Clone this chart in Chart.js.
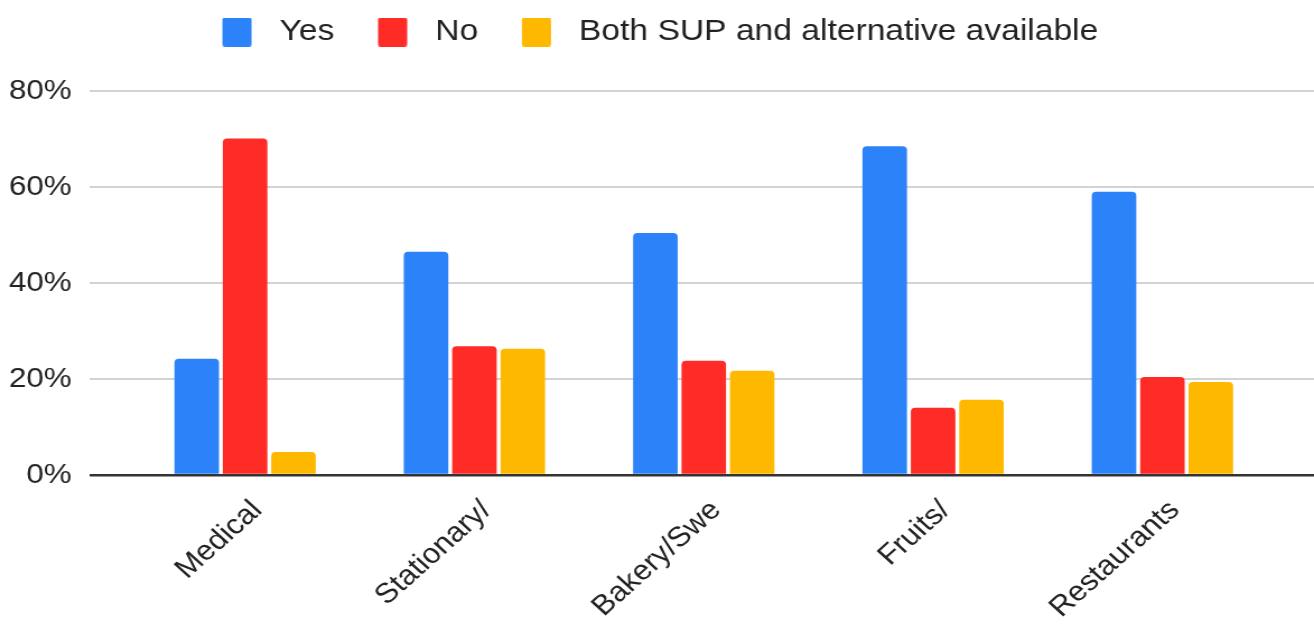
<!DOCTYPE html>
<html>
<head>
<meta charset="utf-8">
<script src="https://cdn.jsdelivr.net/npm/chart.js@4/dist/chart.umd.min.js"></script>
<style>
  html, body { margin: 0; padding: 0; background: #fff; overflow: hidden; }
  /* the chart is laid out on a narrower canvas and widened horizontally */
  #wrap { width: 1173px; height: 626px; transform: scaleX(1.1202); transform-origin: 0 0; }
  #c { display: block; }
</style>
</head>
<body>
<div id="wrap"><canvas id="c" width="1173" height="626"></canvas></div>
<script>
// Share of shops by category: is a single-use-plastic alternative offered?
const categories = ['Medical', 'Stationary/', 'Bakery/Swe', 'Fruits/', 'Restaurants'];
const seriesNames = ['Yes', 'No', 'Both SUP and alternative available'];
const yesValues  = [24.2, 46.5, 50.4, 68.5, 59.0];
const noValues   = [70.1, 26.8, 23.8, 14.0, 20.4];
const bothValues = [4.8, 26.3, 21.7, 15.7, 19.4];
const yTicks = [0, 20, 40, 60, 80];

const colors = ['#2b82f9', '#ff2b26', '#ffb800'];
const FONT = "'Liberation Sans', Arial, Helvetica, sans-serif";
const TEXT = '#222222';

Chart.defaults.font.family = FONT;
Chart.defaults.color = TEXT;

// legend swatch: a rounded block with blank space around it
function swatch(color) {
  const cv = document.createElement('canvas');
  cv.width = 42; cv.height = 29;
  const g = cv.getContext('2d');
  g.fillStyle = color;
  g.beginPath();
  if (g.roundRect) g.roundRect(6, 0, 26, 29, 2); else g.rect(6, 0, 26, 29);
  g.fill();
  return cv;
}

// keeps a gap between the legend row and the plot
const legendSpacer = {
  id: 'legendSpacer',
  beforeInit(chart) {
    Chart.layouts.addBox(chart, {
      position: 'top', weight: 500, fullSize: true, options: {},
      left: 0, top: 0, right: 0, bottom: 0, width: 0, height: 0,
      isHorizontal() { return true; },
      update(maxWidth) { this.width = maxWidth; this.height = 34; },
      draw() {}
    });
  }
};

const toPoints = vals => vals.map((v, i) => ({ x: i, y: v }));
const seriesValues = [yesValues, noValues, bothValues];

new Chart(document.getElementById('c'), {
  type: 'bar',
  data: {
    datasets: seriesNames.map((name, k) => ({
      label: name,
      data: toPoints(seriesValues[k]),
      backgroundColor: colors[k],
      borderRadius: 4,
      borderSkipped: 'start',
      categoryPercentage: 0.633,
      barPercentage: 0.92
    }))
  },
  options: {
    responsive: false,
    animation: false,
    devicePixelRatio: 1,
    layout: { padding: { top: -16, left: 0, right: 0, bottom: 0 } },
    plugins: {
      tooltip: { enabled: false },
      legend: {
        position: 'top',
        align: 'center',
        labels: {
          usePointStyle: true,
          pointStyleWidth: 42,
          boxHeight: 29,
          padding: 33,
          color: TEXT,
          font: { size: 30, family: FONT },
          generateLabels(chart) {
            return Chart.defaults.plugins.legend.labels.generateLabels(chart)
              .map((item, k) => Object.assign(item, { pointStyle: swatch(colors[k]) }));
          }
        }
      }
    },
    scales: {
      x: {
        type: 'linear',
        offset: false,
        min: -0.678,
        max: 4.661,
        grid: { display: false, drawTicks: false },
        border: { display: false },
        afterBuildTicks(scale) { scale.ticks = categories.map((_, i) => ({ value: i })); },
        afterFit(scale) { scale.height = 151; },
        ticks: {
          autoSkip: false,
          maxRotation: 45,
          minRotation: 45,
          padding: 19,
          labelOffset: 11,
          color: TEXT,
          font: { size: 28, family: FONT },
          callback: v => categories[v]
        }
      },
      y: {
        min: 0,
        max: 80,
        afterBuildTicks(scale) { scale.ticks = yTicks.map(v => ({ value: v })); },
        afterFit(scale) { scale.width = 80; },
        border: { display: false },
        grid: {
          drawTicks: false,
          lineWidth: ctx => (ctx.tick && ctx.tick.value === 0) ? 2.5 : 2,
          color: ctx => (ctx.tick && ctx.tick.value === 0) ? '#333333' : '#d3d3d3'
        },
        ticks: {
          padding: 16,
          color: TEXT,
          font: { size: 28, family: FONT },
          callback: v => v + '%'
        }
      }
    }
  },
  plugins: [legendSpacer]
});
</script>
</body>
</html>
